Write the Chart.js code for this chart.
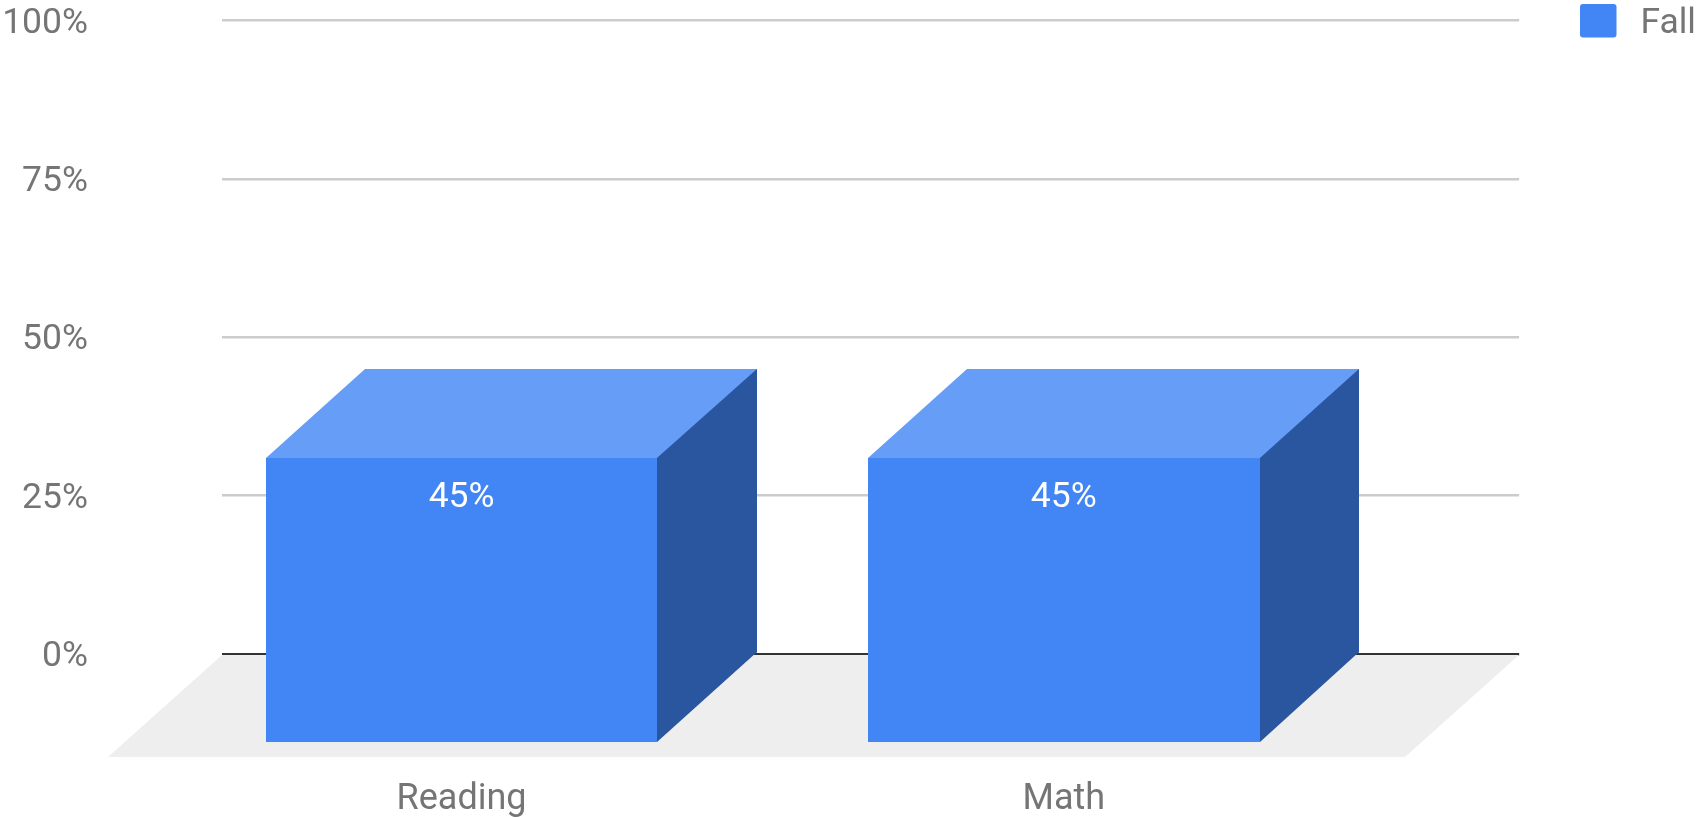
<!DOCTYPE html>
<html>
<head>
<meta charset="utf-8">
<style>html,body{margin:0;padding:0;background:#fff;overflow:hidden}canvas{display:block}</style>
<script src="https://cdn.jsdelivr.net/npm/chart.js@4"></script>
</head>
<body>
<canvas id="c" width="1700" height="817"></canvas>
<script>
const categories = ["Reading", "Math"];
const seriesName = "Fall";
const fallValues = [45, 45];
const yTickStep = 25;

const DEPTH_X = 99.4, DEPTH_Y = 89.5;
const FRONT = "#4285f4", TOP = "#669df6", SIDE = "#2a56a0", FLOOR = "#eeeeee";
const FONT = "Roboto", TEXT = "#757575", FONT_SIZE = 35.5;

function poly(ctx, pts, fill) {
  ctx.beginPath();
  pts.forEach((p, i) => {
    const px = Math.round(p[0]), py = Math.round(p[1] - 0.5);
    if (i) ctx.lineTo(px, py); else ctx.moveTo(px, py);
  });
  ctx.closePath();
  ctx.fillStyle = fill;
  ctx.fill();
}

const depthPlugin = {
  id: "depth",
  afterLayout(chart) {
    const l = chart.legend;
    const h = l.bottom - l.top, pad = l.options.labels.padding;
    l.left = 1580 - pad;
    l.right = 1696;
    l.top = 6.75 - pad;
    l.bottom = l.top + h;
  },
  beforeDatasetsDraw(chart) {
    const { ctx, chartArea: a, scales: { y } } = chart;
    const b = y.getPixelForValue(0) + 1;
    poly(ctx, [[a.left, b], [a.right, b], [a.right - DEPTH_X - 15, b + DEPTH_Y + 13], [a.left - DEPTH_X - 15, b + DEPTH_Y + 13]], FLOOR);
  },
  afterDatasetsDraw(chart) {
    const { ctx } = chart;
    const meta = chart.getDatasetMeta(0);
    meta.data.forEach((bar, i) => {
      const hw = bar.width / 2;
      const l = bar.x - hw, r = bar.x + hw, t = bar.y, b = bar.base;
      poly(ctx, [[l - DEPTH_X, t + DEPTH_Y], [l, t], [r, t], [r - DEPTH_X, t + DEPTH_Y]], TOP);
      poly(ctx, [[r - DEPTH_X, t + DEPTH_Y], [r, t], [r, b], [r - DEPTH_X, b + DEPTH_Y]], SIDE);
      poly(ctx, [[l - DEPTH_X, t + DEPTH_Y], [r - DEPTH_X, t + DEPTH_Y], [r - DEPTH_X, b + DEPTH_Y], [l - DEPTH_X, b + DEPTH_Y]], FRONT);
      ctx.save();
      ctx.fillStyle = "#ffffff";
      ctx.font = FONT_SIZE + "px " + FONT;
      ctx.textAlign = "center";
      ctx.textBaseline = "middle";
      ctx.fillText(fallValues[i] + "%", bar.x - DEPTH_X, t + DEPTH_Y + 40);
      ctx.restore();
    });
  },
  afterDraw(chart) {
    const { ctx, legend } = chart;
    const pad = legend.options.labels.padding;
    const opts = legend.options.labels;
    ctx.save();
    ctx.fillStyle = chart.data.datasets[0].backgroundColor;
    ctx.beginPath();
    ctx.roundRect(legend.left + pad, legend.top + pad - 2.75, opts.boxWidth, opts.boxHeight, 3);
    ctx.fill();
    ctx.restore();
  }
};

new Chart(document.getElementById("c"), {
  type: "bar",
  plugins: [depthPlugin],
  data: {
    datasets: [{
      label: seriesName,
      data: categories.map((c, i) => ({ x: i, y: fallValues[i] })),
      backgroundColor: FRONT,
      borderWidth: 0,
      barPercentage: 0.6503,
      categoryPercentage: 1
    }]
  },
  options: {
    responsive: false,
    animation: false,
    devicePixelRatio: 1,
    layout: { padding: { top: 20.7, right: 51, bottom: 0, left: 0 } },
    plugins: {
      tooltip: { enabled: false },
      legend: {
        position: "right",
        align: "start",
        labels: {
          boxWidth: 36.5,
          boxHeight: 33.5,
          padding: 10,
          color: TEXT,
          textAlign: "right",
          font: { family: FONT, size: FONT_SIZE },
          generateLabels(chart) {
            return Chart.defaults.plugins.legend.labels.generateLabels(chart)
              .map(item => Object.assign(item, { fillStyle: "rgba(0,0,0,0)", strokeStyle: "rgba(0,0,0,0)" }));
          }
        }
      }
    },
    scales: {
      x: {
        type: "linear",
        offset: false,
        min: -0.5629,
        max: 1.5911,
        afterBuildTicks(s) { s.ticks = s.ticks.filter(t => Number.isInteger(t.value)); },
        afterFit(s) { s.height = 163; s.paddingLeft = 0; s.paddingRight = 0; },
        grid: { display: false, drawTicks: false, offset: false },
        border: { display: false },
        ticks: {
          stepSize: 1,
          autoSkip: false,
          maxRotation: 0,
          minRotation: 0,
          padding: 124,
          labelOffset: -DEPTH_X,
          color: TEXT,
          font: { family: FONT, size: 36 },
          callback: v => categories[v]
        }
      },
      y: {
        min: 0,
        max: 100,
        afterFit(s) { s.width = 222; s.paddingTop = 0; s.paddingBottom = 0; },
        grid: {
          lineWidth: 2.5,
          drawTicks: false,
          color: c => c.tick && c.tick.value === 0 ? "#333333" : "#cccccc"
        },
        border: { display: false },
        ticks: {
          stepSize: yTickStep,
          padding: 134,
          labelOffset: 3,
          color: TEXT,
          font: { family: FONT, size: FONT_SIZE },
          callback: v => v + "%"
        }
      }
    }
  }
});
</script>
</body>
</html>
